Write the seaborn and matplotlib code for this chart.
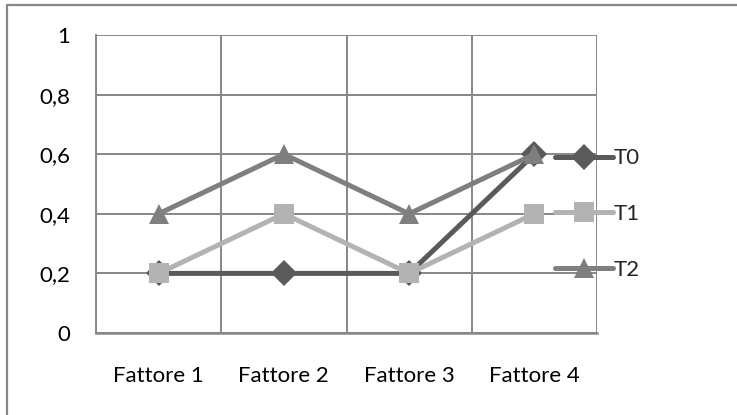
import pandas as pd
import seaborn as sns
import matplotlib.pyplot as plt
from matplotlib.lines import Line2D
from matplotlib.ticker import FixedLocator

categories = ['Fattore 1', 'Fattore 2', 'Fattore 3', 'Fattore 4']
series_names = ['T0', 'T1', 'T2']
t0 = [0.2, 0.2, 0.2, 0.6]
t1 = [0.2, 0.4, 0.2, 0.4]
t2 = [0.4, 0.6, 0.4, 0.6]
y_ticks = [0, 0.2, 0.4, 0.6, 0.8, 1]
y_labels = ['0', '0,2', '0,4', '0,6', '0,8', '1']

rows = []
for name, vals in zip(series_names, [t0, t1, t2]):
    for cat, v in zip(categories, vals):
        rows.append({'fattore': cat, 'valore': v, 'serie': name})
data = pd.DataFrame(rows)

sns.set_style('white')
plt.rcParams['font.family'] = ['Lato', 'DejaVu Sans']

grid_col = '#878787'
palette = {'T0': '#5a5a5a', 'T1': '#b3b3b3', 'T2': '#7f7f7f'}
markers = {'T0': 'D', 'T1': 's', 'T2': '^'}
msize = {'T0': 13.5, 'T1': 14, 'T2': 14.5}
fs = 16

fig = plt.figure(figsize=(7.37, 4.15), dpi=100)
ax = fig.add_axes([96 / 737, 1 - 333 / 415, (597 - 96) / 737, (333 - 35) / 415])

for name in series_names:
    sub = data[data['serie'] == name]
    sns.lineplot(data=sub, x='fattore', y='valore', ax=ax, color=palette[name],
                 linewidth=3.6, marker=markers[name], markersize=msize[name],
                 markeredgewidth=0, label=name, sort=False, zorder=3)

ax.set_xlim(-0.5, 3.5)
ax.set_ylim(0, 1)
ax.set_xlabel('')
ax.set_ylabel('')

# gridlines: horizontal on values, vertical on category boundaries
ax.set_yticks(y_ticks)
ax.set_yticklabels(y_labels)
ax.set_xticks(range(len(categories)))
ax.set_xticklabels(categories)
ax.xaxis.set_minor_locator(FixedLocator([-0.5, 0.5, 1.5, 2.5, 3.5]))
ax.grid(axis='y', which='major', color=grid_col, linewidth=1.4)
ax.grid(axis='x', which='minor', color=grid_col, linewidth=1.4)
ax.tick_params(axis='x', which='major', length=0, pad=24, labelsize=fs, colors='black')
ax.tick_params(axis='x', which='minor', length=5, width=1.4, color=grid_col, direction='out')
ax.tick_params(axis='y', length=5.8, width=1.4, color=grid_col, direction='out', pad=13,
               labelsize=fs, colors='black')
for lbl in ax.get_xticklabels() + ax.get_yticklabels():
    lbl.set_color('black')

for side in ['top', 'right']:
    ax.spines[side].set_visible(False)
ax.spines['left'].set_color(grid_col)
ax.spines['left'].set_linewidth(1.4)
ax.spines['bottom'].set_color(grid_col)
ax.spines['bottom'].set_linewidth(1.8)

ax.legend(loc='center left', bbox_to_anchor=(535 / 737, 1 - 214 / 415),
          bbox_transform=fig.transFigure, frameon=False, fontsize=fs,
          handlelength=2.6, handletextpad=0.05, labelspacing=1.6, borderpad=0.4)

# chart frame (only top and left edges fall inside the picture)
fig.add_artist(Line2D([7 / 737, 1.0], [1 - 5 / 415, 1 - 5 / 415],
                      transform=fig.transFigure, color=grid_col, linewidth=1.6))
fig.add_artist(Line2D([7 / 737, 7 / 737], [0.0, 1 - 5 / 415],
                      transform=fig.transFigure, color=grid_col, linewidth=1.6))

fig.savefig('out.png', dpi=100)
